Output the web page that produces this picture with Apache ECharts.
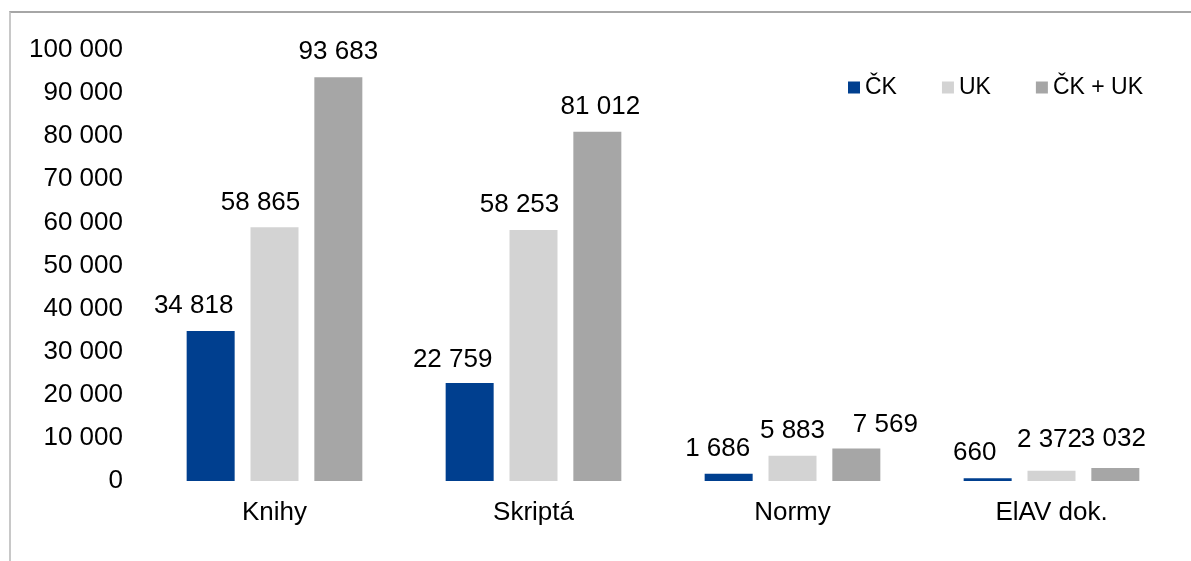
<!DOCTYPE html>
<html>
<head>
<meta charset="utf-8">
<script src="https://cdn.jsdelivr.net/npm/echarts@6/dist/echarts.min.js"></script>
<style>
  html, body { margin: 0; padding: 0; background: #ffffff; }
  #chart { position: absolute; left: 0; top: 0; width: 1191px; height: 561px; }
  #frame { position: absolute; left: 9px; top: 11px; width: 1182px; height: 550px;
           border-top: 2px solid #a6a6a6; border-left: 2px solid #c8c8c8; box-sizing: border-box; }
</style>
</head>
<body>
<div id="frame"></div>
<div id="chart"></div>
<script>
var categories = ['Knihy', 'Skriptá', 'Normy', 'ElAV dok.'];
var ckValues = [34818, 22759, 1686, 660];
var ukValues = [58865, 58253, 5883, 2372];
var totalValues = [93683, 81012, 7569, 3032];
var seriesNames = ['ČK', 'UK', 'ČK + UK'];
var colors = ['#003f8f', '#d3d3d3', '#a6a6a6'];

// posuny popisku [dx, dy] tak jak jsou v puvodnim grafu (rucne posunute)
var labelShift = [
  [[-17, 0], [-17, 2], [-11, 0], [-13, 0]],
  [[-14, 1], [-14, 0], [0, 0], [-2, -6]],
  [[0, 0], [3, 0], [29, 1], [-2, -4]]
];

// cisla s mezerou jako oddelovacem tisicu
function fmt(v) {
  return String(v).replace(/\B(?=(\d{3})+(?!\d))/g, ' ');
}

var font = 'Liberation Sans, Arial, sans-serif';

function makeSeries(idx, data) {
  return {
    name: seriesNames[idx],
    type: 'bar',
    data: data.map(function (v, i) {
      return { value: v, label: { offset: labelShift[idx][i] } };
    }),
    barWidth: 48,
    barGap: '33%',
    itemStyle: { color: colors[idx] },
    label: {
      show: true,
      position: 'top',
      distance: 12,
      color: '#000000',
      fontSize: 26,
      fontFamily: font,
      formatter: function (p) { return fmt(p.value); }
    }
  };
}

var myChart = echarts.init(document.getElementById('chart'), null, { renderer: 'canvas' });

myChart.setOption({
  backgroundColor: 'transparent',
  animation: false,
  legend: {
    right: 43,
    top: 71,
    itemWidth: 12,
    itemHeight: 12,
    itemGap: 45,
    icon: 'rect',
    textStyle: { fontSize: 23, color: '#000000', fontFamily: font },
    data: seriesNames
  },
  grid: {
    left: 145,
    right: 10,
    top: 50,
    bottom: 80
  },
  xAxis: {
    type: 'category',
    data: categories,
    axisLine: { show: false },
    axisTick: { show: false },
    axisLabel: {
      fontSize: 26,
      color: '#000000',
      fontFamily: font,
      margin: 19
    }
  },
  yAxis: {
    type: 'value',
    min: 0,
    max: 100000,
    interval: 10000,
    splitLine: { show: false },
    axisLine: { show: false },
    axisTick: { show: false },
    axisLabel: {
      fontSize: 26,
      color: '#000000',
      fontFamily: font,
      margin: 22,
      formatter: function (v) { return fmt(v); }
    }
  },
  series: [
    makeSeries(0, ckValues),
    makeSeries(1, ukValues),
    makeSeries(2, totalValues)
  ]
});
</script>
</body>
</html>
